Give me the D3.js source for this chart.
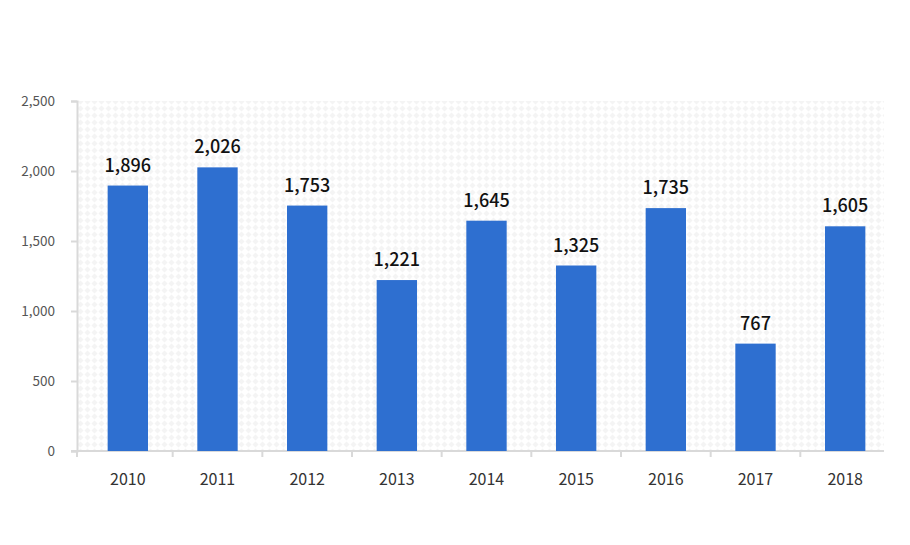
<!DOCTYPE html>
<html lang="ko">
<head>
<meta charset="UTF-8">
<title>Bar chart</title>
<script src="https://d3js.org/d3.v7.min.js"></script>
<style>
    body{ margin: 0; background: #fff; }
    svg{ display: block; }
    text{ font-family: "Noto Sans CJK KR", "Noto Sans", sans-serif; }
</style>
</head>
<body>
<script>
    const years = ["2010","2011","2012","2013","2014","2015","2016","2017","2018"]
    const values = [1896, 2026, 1753, 1221, 1645, 1325, 1735, 767, 1605]
    const yTicks = [0, 500, 1000, 1500, 2000, 2500]

    const width = 910, height = 545
    const margin = {top: 101, right: 26, bottom: 94, left: 77}

    let svg = d3.select("body").append("svg")
        .attr("width", width).attr("height", height)

    // light diamond background pattern
    let pat = svg.append("defs").append("pattern")
        .attr("id", "dots").attr("patternUnits", "userSpaceOnUse")
        .attr("width", 7).attr("height", 7)
    pat.append("rect").attr("width", 7).attr("height", 7).attr("fill", "#fff")
    pat.append("path").attr("d", "M3.5 0.5 L6.5 3.5 L3.5 6.5 L0.5 3.5 Z").attr("fill", "#f4f4f4")

    const x = d3.scaleBand().domain(years)
        .range([83, 890])
        .paddingInner(0.55).paddingOuter(0.275)
    const y = d3.scaleLinear().domain([0, 2500])
        .range([height - margin.bottom, margin.top])

    svg.append("rect")
        .attr("x", margin.left).attr("y", margin.top)
        .attr("width", width - margin.right - margin.left)
        .attr("height", height - margin.bottom - margin.top)
        .attr("fill", "url(#dots)")

    // y axis
    let gy = svg.append("g").attr("transform", `translate(${margin.left},0)`)
        .call(d3.axisLeft(y).tickValues(yTicks).tickFormat(d3.format(",")).tickSize(6).tickPadding(16))
    gy.select(".domain").attr("stroke", "#d9d9d9").attr("stroke-width", 2)
    gy.selectAll(".tick line").attr("stroke", "#d9d9d9").attr("stroke-width", 2)
    gy.selectAll(".tick text").attr("fill", "#555").attr("font-size", 13.5)
        .attr("font-family", "'Noto Sans CJK KR', 'Noto Sans', sans-serif")

    // x axis baseline + ticks between categories
    const x0 = y(0)
    svg.append("line")
        .attr("x1", margin.left - 6).attr("x2", width - margin.right)
        .attr("y1", x0).attr("y2", x0)
        .attr("stroke", "#d9d9d9").attr("stroke-width", 2)
    const gap = (x.step() - x.bandwidth()) / 2
    svg.selectAll(".xtick").data(years).enter().append("line")
        .attr("x1", (d, i) => i === 0 ? margin.left : x(d) - gap)
        .attr("x2", (d, i) => i === 0 ? margin.left : x(d) - gap)
        .attr("y1", x0).attr("y2", x0 + 6)
        .attr("stroke", "#d9d9d9").attr("stroke-width", 2)

    svg.selectAll(".xlabel").data(years).enter().append("text")
        .attr("x", d => x(d) + x.bandwidth() / 2)
        .attr("y", x0 + 34)
        .attr("text-anchor", "middle")
        .attr("fill", "#333").attr("font-size", 16)
        .text(d => d)

    // bars
    svg.selectAll(".bar").data(values).enter().append("rect")
        .attr("x", (d, i) => x(years[i]))
        .attr("y", d => y(d))
        .attr("width", x.bandwidth())
        .attr("height", d => x0 - y(d))
        .attr("fill", "#2e6fd0")

    svg.selectAll(".val").data(values).enter().append("text")
        .attr("x", (d, i) => x(years[i]) + x.bandwidth() / 2)
        .attr("y", d => y(d) - 14)
        .attr("text-anchor", "middle")
        .attr("fill", "#111").attr("font-size", 18).attr("font-weight", 500)
        .text(d => d3.format(",")(d))
</script>
</body>
</html>
